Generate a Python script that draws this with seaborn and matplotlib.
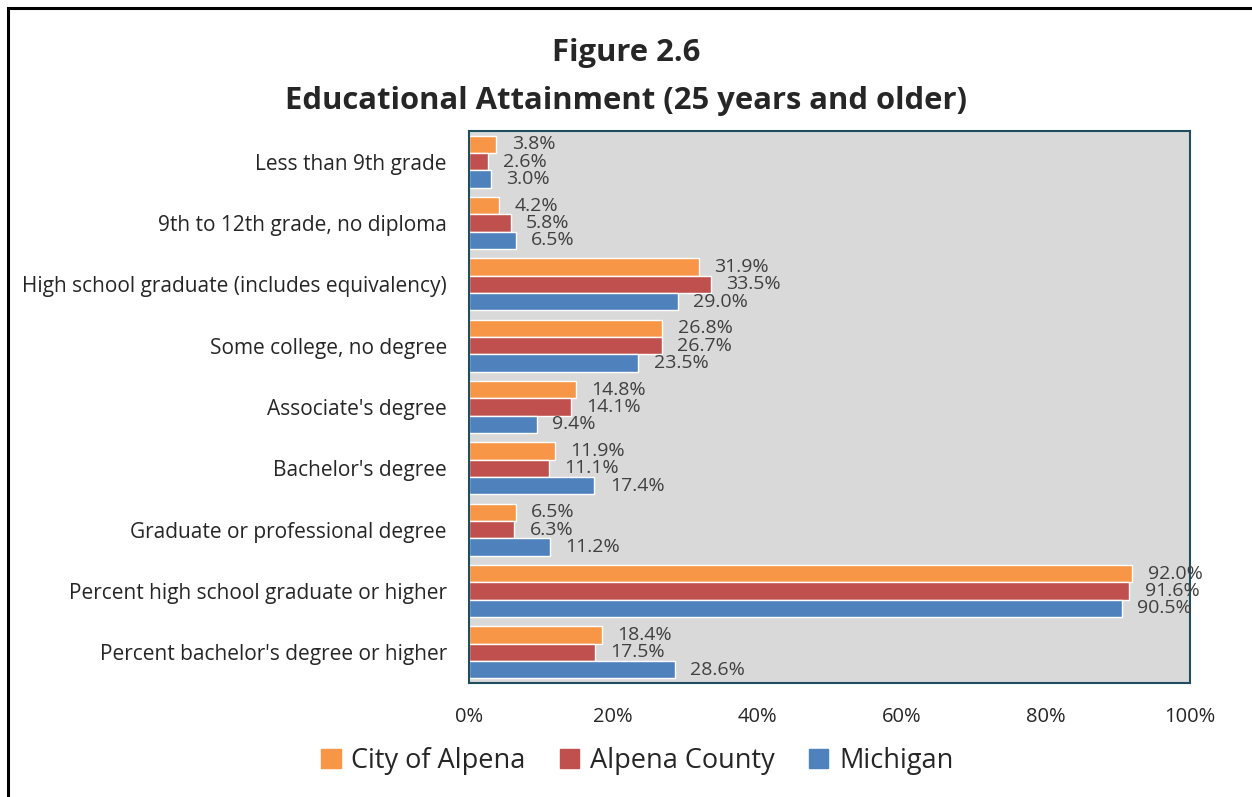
import seaborn as sns
import matplotlib.pyplot as plt
import matplotlib.patches as mpatches
import pandas as pd

sns.set_style("white")
plt.rcParams["font.family"] = ["Open Sans", "DejaVu Sans"]

# Data (percent)
categories = [
    "Less than 9th grade",
    "9th to 12th grade, no diploma",
    "High school graduate (includes equivalency)",
    "Some college, no degree",
    "Associate's degree",
    "Bachelor's degree",
    "Graduate or professional degree",
    "Percent high school graduate or higher",
    "Percent bachelor's degree or higher",
]
city_of_alpena = [3.8, 4.2, 31.9, 26.8, 14.8, 11.9, 6.5, 92.0, 18.4]
alpena_county = [2.6, 5.8, 33.5, 26.7, 14.1, 11.1, 6.3, 91.6, 17.5]
michigan = [3.0, 6.5, 29.0, 23.5, 9.4, 17.4, 11.2, 90.5, 28.6]
series = ["City of Alpena", "Alpena County", "Michigan"]
colors = ["#F79646", "#C0504D", "#4F81BD"]

df = pd.DataFrame({
    "Category": categories * 3,
    "Area": [s for s in series for _ in categories],
    "Value": city_of_alpena + alpena_county + michigan,
})

fig = plt.figure(figsize=(12.52, 7.97), dpi=100)
ax = fig.add_axes([0.3746, 0.143, 0.5759, 0.6926])

sns.barplot(data=df, y="Category", x="Value", hue="Area", hue_order=series,
            order=categories, palette=colors, width=0.85, orient="h",
            saturation=1, ax=ax, legend=False)

for cont in ax.containers:
    ax.bar_label(cont, labels=[f"{v:.1f}%" for v in cont.datavalues],
                 padding=11, fontsize=14, color="#404040")

ax.set_facecolor("#D9D9D9")
ax.set_xlim(0, 100)
ax.set_xticks(range(0, 101, 20))
ax.set_xticklabels([f"{t}%" for t in range(0, 101, 20)], fontsize=14.5)
ax.tick_params(axis="y", labelsize=15, length=0, pad=16)
ax.tick_params(axis="x", length=0, pad=17)
ax.set_xlabel("")
ax.set_ylabel("")
for sp in ax.spines.values():
    sp.set_color("#1F4E5F")
    sp.set_linewidth(1.5)

fig.text(0.5, 0.933, "Figure 2.6", ha="center", va="center",
         fontsize=22.3, fontweight="bold")
fig.text(0.5, 0.873, "Educational Attainment (25 years and older)",
         ha="center", va="center", fontsize=22.3, fontweight="bold")

handles = [mpatches.Patch(color=c, label=s) for s, c in zip(series, colors)]
fig.legend(handles=handles, loc="center", bbox_to_anchor=(0.509, 0.045),
           ncol=3, frameon=False, fontsize=19.5, handlelength=0.72,
           handleheight=0.72, handletextpad=0.4, columnspacing=1.25)

# outer chart border (cut off at right and bottom like the reference)
fig.patches.append(mpatches.Rectangle((8 / 1252, -0.1), 1.2, 1.1 - 7.5 / 797,
                                      transform=fig.transFigure, fill=False,
                                      edgecolor="black", linewidth=2.2))

plt.savefig("out.png")
plt.close()
